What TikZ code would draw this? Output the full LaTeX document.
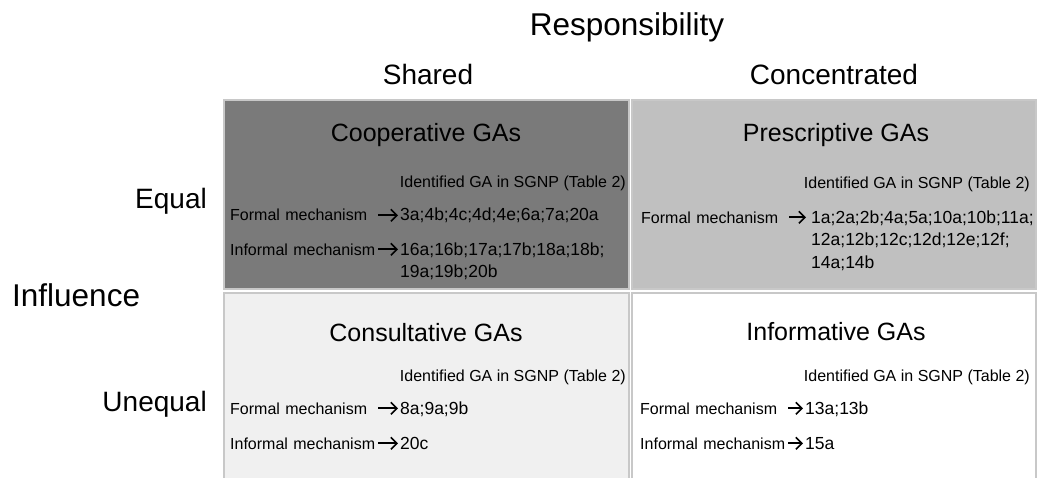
\documentclass[tikz,border=0pt]{standalone}
\usepackage{fontspec}
\setmainfont{Liberation Sans}
\usetikzlibrary{arrows.meta}

\definecolor{coopfill}{RGB}{122,122,122}
\definecolor{prescfill}{RGB}{192,192,192}
\definecolor{consfill}{RGB}{240,240,240}
\definecolor{edgegray}{RGB}{200,200,200}

\tikzset{
  quad/.style={draw=edgegray, line width=2pt},
  head/.style={inner sep=0pt, font=\fontsize{28}{30}\selectfont},
  gatitle/.style={inner sep=0pt, anchor=base, font=\fontsize{25}{28}\selectfont},
  tabref/.style={inner sep=0pt, anchor=base east, font=\fontsize{16}{18}\selectfont},
  mech/.style={inner sep=0pt, anchor=base west, text width=146pt, font=\fontsize{16}{18}\selectfont},
  ids/.style={inner sep=0pt, anchor=base west, align=left, font=\fontsize{17.5}{22.5}\selectfont},
  gaarrow/.style={-{Straight Barb[length=6pt,width=12pt]}, line width=1.6pt, shorten <=2pt, shorten >=2pt}
}

\begin{document}
\begin{tikzpicture}[x=1pt,y=-1pt]
\useasboundingbox (0,0) rectangle (1040,478);

% the four quadrants
\draw[quad, fill=coopfill] (224,100) rectangle (629,289);
\draw[quad, fill=prescfill] (632,100) rectangle (1036,289);
\draw[quad, fill=consfill] (224,293) rectangle (629,490);
\draw[quad, fill=white] (632,293) rectangle (1036,490);

% axes
\node[head, anchor=base, font=\fontsize{31.5}{33}\selectfont] (resp) at (627,36) {Responsibility};
\node[head, anchor=base] (shared) at (428,85) {Shared};
\node[head, anchor=base] (conc) at (834,85) {Concentrated};
\node[head, anchor=base west, font=\fontsize{31.5}{33}\selectfont] (infl) at (12,306) {Influence};
\node[head, anchor=base east] (equal) at (207,209) {Equal};
\node[head, anchor=base east] (unequal) at (207,411) {Unequal};

% cooperative
\node[gatitle] (coop) at (426,142) {Cooperative GAs};
\node[tabref] (cref) at (626,188) {Identified GA in SGNP (Table 2)};
\node[mech] (cf) at (230,221) {Formal mechanism};
\node[ids] (cfd) at (400,221) {3a;4b;4c;4d;4e;6a;7a;20a};
\node[mech] (ci) at (230,255) {Informal mechanism};
% base of a two-line node is its last line
\node[ids] (cid) at (400,277.5) {16a;16b;17a;17b;18a;18b;\\19a;19b;20b};
\draw[gaarrow] (cf.east) -- (cf.east -| cfd.west);
\draw[gaarrow] (ci.east) -- (ci.east -| cid.west);

% prescriptive
\node[gatitle] (presc) at (836,142) {Prescriptive GAs};
\node[tabref] (pref) at (1030,189) {Identified GA in SGNP (Table 2)};
\node[mech] (pf) at (641,223) {Formal mechanism};
\node[ids] (pfd) at (811,268) {1a;2a;2b;4a;5a;10a;10b;11a;\\12a;12b;12c;12d;12e;12f;\\14a;14b};
\draw[gaarrow, shorten >=5pt] (pf.east) -- (pf.east -| pfd.west);

% consultative
\node[gatitle] (cons) at (426,341) {Consultative GAs};
\node[tabref] (sref) at (626,381) {Identified GA in SGNP (Table 2)};
\node[mech] (sf) at (230,414) {Formal mechanism};
\node[ids] (sfd) at (400,414) {8a;9a;9b};
\node[mech] (si) at (230,449) {Informal mechanism};
\node[ids] (sid) at (400,449) {20c};
\draw[gaarrow] (sf.east) -- (sf.east -| sfd.west);
\draw[gaarrow] (si.east) -- (si.east -| sid.west);

% informative
\node[gatitle] (info) at (836,340) {Informative GAs};
\node[tabref] (iref) at (1030,381) {Identified GA in SGNP (Table 2)};
\node[mech] (iff) at (640,414) {Formal mechanism};
\node[ids] (ifd) at (805,414) {13a;13b};
\node[mech] (ii) at (640,449) {Informal mechanism};
\node[ids] (iid) at (805,449) {15a};
\draw[gaarrow] (iff.east) -- (iff.east -| ifd.west);
\draw[gaarrow] (ii.east) -- (ii.east -| iid.west);
\end{tikzpicture}
\end{document}
